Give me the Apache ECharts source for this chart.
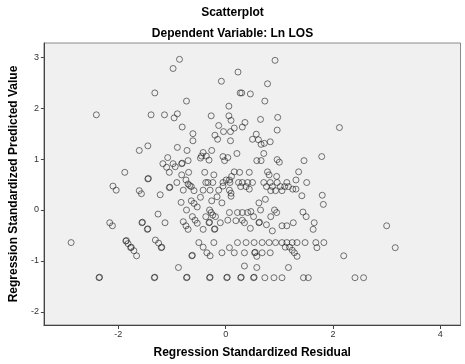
<!DOCTYPE html>
<html>
<head>
<meta charset="utf-8">
<script src="https://cdn.jsdelivr.net/npm/echarts@6/dist/echarts.min.js"></script>
<style>
html,body{margin:0;padding:0;background:#fff;}
#chart{width:465px;height:364px;}
</style>
</head>
<body>
<div id="chart"></div>
<script>
// Tick labels
const xTicks = [-2, 0, 2, 4];
const yTicks = [-2, -1, 0, 1, 2, 3];
const chartTitle = 'Scatterplot';
const chartSubtitle = 'Dependent Variable: Ln LOS';
const xTitle = 'Regression Standardized Residual';
const yTitle = 'Regression Standardized Predicted Value';

// Cases: [Regression Standardized Residual, Regression Standardized Predicted Value]
const upperCases = [
[-0.86,2.96],[0.92,2.94],[-0.98,2.78],[0.23,2.71],[-0.08,2.53],[0.78,2.48],[-1.32,2.30],[0.27,2.30],[0.30,2.30],[0.46,2.28],[-0.73,2.14],[0.73,2.14],[0.06,2.04],
[-2.41,1.87],[-1.39,1.87],[-1.14,1.87],[-0.96,1.81],[-0.90,1.89],[-0.27,1.85],[0.06,1.85],[0.10,1.76],[0.65,1.78],[0.97,1.82],[0.36,1.72],[-0.81,1.63],[-0.13,1.66],[0.31,1.63],[0.16,1.61],[2.12,1.62],[0.96,1.57],[-0.04,1.54],[0.09,1.54],[-0.61,1.50],[-0.20,1.47],[0.57,1.49],
[-0.15,1.39],[-0.61,1.36],[0.09,1.36],[0.50,1.39],[0.61,1.38],[0.66,1.29],[0.72,1.31],[0.83,1.34],[-1.45,1.26],[-1.61,1.17],[-0.90,1.23],[-0.72,1.17],[-0.26,1.17],[-0.42,1.13],[-0.45,1.06],[-0.36,1.06],[-0.31,0.98],[-0.47,1.02],[-0.05,1.05],[0.04,1.03],[-0.02,0.97],[-1.08,1.03],[-1.17,0.91],[-0.98,0.91],[-0.82,0.91],[-0.70,0.97],[0.21,1.11],[0.71,1.11],[0.58,0.97],[0.66,0.97],[0.96,0.99],[1.00,0.94],[1.46,0.97],[1.79,1.05]
];
const middleCases = [
[-1.10,0.84],[-0.94,0.85],[-1.05,0.74],[-0.82,0.69],[-0.69,0.74],[-1.88,0.74],[-0.39,0.74],[-0.22,0.69],[0.16,0.75],[0.26,0.74],[0.44,0.74],[0.78,0.75],[0.81,0.69],[0.95,0.66],[1.36,0.75],[0.11,0.66],[-1.45,0.61],[-0.74,0.59],[0.07,0.59],[0.01,0.59],[1.31,0.59],
[-0.91,0.54],[-0.70,0.51],[-0.67,0.48],[-0.64,0.46],[-0.37,0.54],[-0.33,0.54],[-0.24,0.54],[-0.05,0.54],[0.08,0.54],[-0.05,0.47],[0.24,0.54],[0.31,0.54],[0.41,0.54],[0.50,0.54],[0.28,0.46],[0.38,0.46],[0.44,0.41],[0.71,0.54],[0.76,0.46],[0.83,0.54],[0.87,0.46],[0.96,0.54],[1.02,0.46],[1.05,0.38],[1.14,0.54],[1.17,0.46],[1.25,0.41],[1.31,0.41],[0.84,0.38],[0.93,0.38],[1.51,0.54],[1.10,0.46],[-2.10,0.47],[-1.05,0.44],[-2.04,0.39],[-1.61,0.38],[-1.57,0.32],[-0.79,0.39],[-0.59,0.38],[-0.42,0.39],[-0.29,0.39],[-0.13,0.39],[0.07,0.39],[0.10,0.33],[-1.22,0.30],
[-0.47,0.25],[-0.64,0.18],[-0.59,0.13],[-0.83,0.15],[-0.73,0.00],[-0.53,0.06],[-0.26,0.18],[-0.16,0.26],[-0.07,0.14],[0.10,0.27],[0.62,0.14],[0.74,0.21],[1.42,0.28],[1.80,0.29],[1.82,0.11],
[-0.30,0.00],[-0.27,-0.05],[-0.24,-0.10],[-0.37,-0.13],[-0.19,-0.13],[0.07,-0.05],[0.22,-0.05],[0.31,-0.05],[0.41,-0.05],[0.47,-0.03],[0.65,0.00],[0.91,0.00],[0.95,-0.05],[0.84,-0.13],[0.52,-0.13],[1.44,-0.04],[1.50,-0.13],[-1.26,-0.08],[-1.13,-0.25],[-2.16,-0.25],[-2.11,-0.31],[-1.56,-0.25],[-1.46,-0.38],[-0.79,-0.23],[-0.74,-0.31],[-0.70,-0.38],[-0.62,-0.13],[-0.57,-0.20],[-0.53,-0.26],[-0.42,-0.38],[-0.31,-0.25],[-0.21,-0.38],[-0.10,-0.25],[0.04,-0.20],[0.19,-0.21],[0.31,-0.20],[0.35,-0.25],[0.46,-0.36],[0.62,-0.25],[0.76,-0.29],[0.87,-0.41],[1.05,-0.31],[1.14,-0.31],[1.26,-0.25],[1.65,-0.25],[1.63,-0.38],[3.00,-0.31]
];
const lowerCases = [
[-2.88,-0.64],[-1.86,-0.61],[-1.82,-0.66],[-1.77,-0.74],[-1.71,-0.80],[-1.66,-0.90],[-1.31,-0.59],[-1.25,-0.65],[-1.20,-0.74],[-0.50,-0.64],[-0.42,-0.73],[-0.35,-0.84],[-0.29,-0.90],[-0.22,-0.64],[-0.63,-0.90],[-0.07,-0.84],[0.07,-0.74],[0.16,-0.84],[0.22,-0.64],[0.38,-0.64],[0.53,-0.64],[0.68,-0.64],[0.81,-0.64],[0.93,-0.64],[1.05,-0.64],[1.14,-0.64],[1.24,-0.64],[1.33,-0.64],[1.48,-0.64],[1.68,-0.64],[1.83,-0.64],[0.35,-0.84],[0.54,-0.84],[0.58,-0.91],[0.68,-0.84],[0.83,-0.84],[1.11,-0.73],[1.19,-0.73],[1.24,-0.79],[1.28,-0.84],[1.33,-0.91],[1.70,-0.74],[3.16,-0.74],[2.20,-0.90],
[-0.88,-1.13],[0.35,-1.10],[0.58,-1.13],[1.17,-1.13],
[-2.36,-1.33],[-1.33,-1.33],[-0.73,-1.33],[-0.30,-1.33],[0.02,-1.33],[0.28,-1.33],[0.52,-1.33],[0.73,-1.33],[0.90,-1.33],[1.05,-1.33],[1.45,-1.33],[1.54,-1.33],[2.41,-1.33],[2.57,-1.33]
];
// Nearly coincident cases (appear as darker circles)
const overlapCases = [
[-1.44,0.62],[-1.04,0.45],[-1.55,-0.24],[-1.45,-0.37],[-0.30,-0.24],[-0.20,-0.37],[0.63,-0.24],[-1.19,-0.73],[-0.62,-0.89],[0.55,-0.83],[-0.81,0.92],
[-2.35,-1.32],[-1.32,-1.32],[-0.72,-1.32],[-0.29,-1.32],[0.03,-1.32],[0.29,-1.32],[0.53,-1.32],[-1.85,-0.60],[-1.76,-0.73]
];

const allCases = upperCases.concat(middleCases, lowerCases, overlapCases);
const font = "'Liberation Sans', Arial, sans-serif";

const chart = echarts.init(document.getElementById('chart'));
chart.setOption({
  animation: false,
  backgroundColor: '#ffffff',
  title: [
    {text: chartTitle, left: 'center', top: 7, padding: 0, textStyle: {fontFamily: font, fontSize: 12, fontWeight: 'bold', color: '#000'}},
    {text: chartSubtitle, left: 'center', top: 28, padding: 0, textStyle: {fontFamily: font, fontSize: 12, fontWeight: 'bold', color: '#000'}}
  ],
  grid: {left: 39, top: 43, right: 4.5, bottom: 39, show: true, backgroundColor: '#f0f0f0', borderColor: '#8a8a8a', borderWidth: 1},
  xAxis: {
    type: 'value', min: -3.387, max: 4.376,
    name: xTitle, nameLocation: 'middle', nameGap: 22,
    nameTextStyle: {fontFamily: font, fontSize: 12, fontWeight: 'bold', color: '#000'},
    axisLine: {show: true, onZero: false, lineStyle: {color: '#444', width: 1}},
    axisTick: {show: true, length: 4, customValues: xTicks, lineStyle: {color: '#444'}},
    axisLabel: {customValues: xTicks, fontFamily: font, fontSize: 9, color: '#333', margin: 5},
    splitLine: {show: false}
  },
  yAxis: {
    type: 'value', min: -2.259, max: 3.281,
    name: yTitle, nameLocation: 'middle', nameGap: 17,
    nameTextStyle: {fontFamily: font, fontSize: 12, fontWeight: 'bold', color: '#000'},
    axisLine: {show: true, onZero: false, lineStyle: {color: '#444', width: 1}},
    axisTick: {show: true, length: 3, customValues: yTicks, lineStyle: {color: '#444'}},
    axisLabel: {customValues: yTicks, fontFamily: font, fontSize: 9, color: '#333', margin: 5},
    splitLine: {show: false}
  },
  series: [{
    type: 'scatter',
    data: allCases,
    symbol: 'circle',
    symbolSize: 6,
    itemStyle: {color: 'rgba(0,0,0,0)', borderColor: 'rgba(30,30,30,0.75)', borderWidth: 1}
  }]
});
</script>
</body>
</html>
